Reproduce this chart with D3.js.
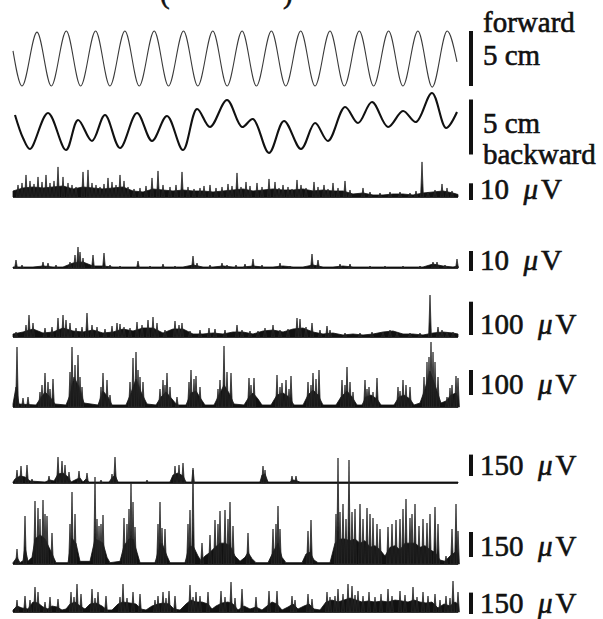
<!DOCTYPE html>
<html lang="en">
<head>
<meta charset="utf-8">
<style>
  body { margin: 0; background: white; }
  svg { display: block; background: white; font-family: 'Liberation Serif', 'DejaVu Serif', serif; }
  .fwd { fill: none; stroke: #3a3a3a; stroke-width: 1.1px; }
  .bwd { fill: none; stroke: #111; stroke-width: 2.1px; stroke-linejoin: round; }
  .env { fill: #111; stroke: #111; stroke-width: 0.8px; }
  .spike { fill: #151515; stroke: #2a2a2a; stroke-width: 0.8px; }
  .base { stroke: #111; stroke-width: 1.6px; }
  .bar { stroke: #111; stroke-width: 4px; }
  .lbl { font-size: 29px; fill: #111; stroke: #111; stroke-width: 0.6px; }
</style>
</head>
<body>
<svg width="603" height="619"></svg>
<script src="https://cdn.jsdelivr.net/npm/d3@7"></script>
<script>

// ---- data (time in s, displacement in cm, EMG in uV) ----

// forward trace: turning points [t, cm]
var forward = [[0,0.7],[0.9,-2.5],[2.4,2.4],[3.83,-2.5],[5.33,2.5],[6.76,-2.5],[8.26,2.5],[9.69,-2.5],
  [11.19,2.5],[12.62,-2.5],[14.12,2.5],[15.55,-2.5],[17.05,2.5],[18.48,-2.5],[19.98,2.5],[21.41,-2.5],
  [22.91,2.5],[24.34,-2.5],[25.84,2.5],[27.27,-2.5],[28.77,2.5],[30.2,-2.5],[31.7,2.5],[33.13,-2.5],
  [34.63,2.5],[36.06,-2.5],[37.56,2.5],[38.99,-2.5],[40.49,2.5],[41.92,-2.6],[43.42,2.5],[44.4,-0.3]];

// backward trace [t, cm]
var backward = [[0.2,1.09],[1.0,-1.0],[1.7,-2.0],[3.5,1.27],[5.3,-2.09],[6.5,0.64],[7.9,-1.27],[9.2,1.09],
  [10.7,-1.91],[12.4,1.27],[13.9,-1.27],[15.4,1.0],[17.0,-2.09],[18.4,1.64],[19.7,0],[21.4,2.45],
  [22.9,0],[24.0,0.73],[25.6,-2.36],[27.1,0.55],[28.8,-2.0],[30.2,0.36],[31.5,-1.27],[33.2,1.82],
  [34.5,0.36],[35.9,2.27],[37.5,0],[39.0,1.45],[40.3,0.45],[41.9,3.09],[43.3,-0.09],[44.4,1.36]];

// rectified EMG, background activity [t, uV]
var env1 = [[0,3.6],[1,5.4],[2,6],[3,5.4],[4,6],[5,6.6],[6,4.8],[7,6],[8,5.4],[9,4.8],[10,5.4],[11,6],
  [12,3.6],[13,3],[14,4.8],[15,4.2],[16,3.6],[17,4.2],[18,3.6],[19,3.6],[20,3],[21,3.6],[22,4.2],[23,4.8],
  [24,3.6],[25,4.2],[26,4.8],[27,4.2],[28,4.2],[29,4.8],[30,3.6],[31,4.2],[32,3.6],[33,3.6],[34,1.8],
  [35,2.4],[36,1.2],[37,1.2],[38,1.8],[39,1.8],[40,1.2],[41,2.4],[42,3],[43,3.6],[44,2.4],[44.5,1.5]];
var spk1 = [[0.5,7.2],[0.9,8.4],[1.3,13.2],[1.7,9.6],[2.1,7.8],[2.5,12],[2.9,9],[3.3,13.2],[3.7,8.4],
  [4.1,9.6],[4.5,18],[5.0,12],[5.5,8.4],[5.9,7.2],[6.3,6],[7.0,15],[7.5,16.2],[7.9,8.4],[8.3,7.2],[8.7,6],
  [9.1,7.8],[9.5,11.4],[9.9,9],[10.3,7.2],[10.7,13.2],[11.1,9.6],[11.5,6],[12.1,4.8],[12.7,5.4],[13.3,6.6],
  [13.9,11.4],[14.5,15.6],[15.0,7.2],[15.7,6],[16.3,7.2],[16.9,15],[17.5,6],[18.1,4.8],[18.7,5.4],[19.1,6.6],
  [19.7,7.2],[20.3,5.4],[20.9,6],[21.5,7.8],[21.9,6.6],[22.4,14.4],[22.8,6],[23.3,9],[23.7,6.6],[24.4,8.4],
  [24.9,6],[25.6,10.8],[26.2,9],[26.6,5.4],[27.0,7.2],[27.5,6],[27.9,4.8],[28.4,10.2],[28.8,7.2],[29.3,5.4],
  [30.1,9],[30.5,6],[31.1,7.2],[31.5,4.8],[32.0,8.4],[32.5,5.4],[33.2,9.6],[33.7,4.2],[35.0,5.4],[35.7,3],
  [36.7,2.4],[37.7,3],[38.7,3],[39.7,2.4],[40.3,3.6],[40.9,21],[41.5,3],[42.2,4.2],[42.9,7.8],[43.4,5.4],[43.9,3.6]];

var env2 = [[0,0.5],[1,0.5],[2,0.5],[3,1],[4,0.5],[5,0.5],[6,2.5],[7,3],[8,1],[9,1],[10,0.5],[11,0.5],
  [12,0.5],[13,0.5],[14,0.5],[15,0.5],[16,0.5],[17,0.5],[18,1.5],[19,0.5],[20,0.5],[21,1],[22,0.5],[23,0.5],
  [24,1],[25,0.5],[26,0.5],[27,1],[28,0.5],[29,0.5],[30,1.5],[31,0.5],[32,0.5],[33,1],[34,0.5],[35,0.5],
  [36,0.5],[37,0.5],[38,0.5],[39,0.5],[40,0.5],[41,0.5],[42,2],[43,1],[44,0.5],[44.5,1]];
var spk2 = [[0.3,4],[0.9,1.5],[3.0,3],[3.5,2.5],[4.3,1.5],[5.7,3],[6.2,6.5],[6.5,10.5],[6.7,8],[7.0,5],
  [8.0,6.5],[9.1,7.5],[9.7,1.5],[10.7,1],[12.5,3.5],[13.7,1],[15.0,2],[16.2,1],[18.0,6],[18.4,2.5],[19.7,1.5],
  [20.9,2.5],[21.4,1.5],[22.3,1.5],[23.2,2],[24.0,4.5],[24.9,1.5],[26.7,2.5],[27.7,1],[29.9,7],[30.5,4],
  [32.7,2],[33.7,2],[35.7,1],[37.2,1],[39.0,1],[40.7,1],[42.0,3],[42.4,3],[43.2,1.5],[44.4,4.5]];

var env3 = [[0,9],[1,15],[2,24],[3,12],[4,15],[5,27],[6,18],[7,15],[8,21],[9,12],[10,15],[11,24],[12,18],
  [13,27],[14,27],[15,12],[16,24],[17,24],[18,9],[19,9],[20,12],[21,9],[22,15],[23,15],[24,9],[25,18],
  [26,21],[27,15],[28,24],[29,27],[30,15],[31,9],[32,12],[33,6],[34,9],[35,6],[36,9],[37,15],[38,18],
  [39,9],[40,9],[41,6],[42,12],[43,15],[44,12],[44.5,9]];
var spk3 = [[0.3,15],[1.3,36],[1.6,66],[2.0,42],[3.2,27],[3.9,30],[4.5,57],[5.0,66],[5.3,51],[5.7,42],
  [6.3,27],[6.9,30],[7.4,72],[7.9,36],[8.4,30],[9.2,24],[9.9,33],[10.4,42],[10.7,39],[11.1,30],[11.7,27],
  [12.4,45],[12.9,36],[13.5,51],[14.0,60],[14.4,42],[15.2,21],[16.2,48],[16.6,36],[16.9,42],[17.7,18],
  [18.7,21],[19.6,27],[20.2,24],[21.2,21],[22.4,36],[22.9,21],[23.7,18],[24.5,18],[25.2,27],[26.0,36],
  [26.7,21],[27.5,24],[28.4,57],[28.7,54],[29.3,30],[29.9,42],[30.7,21],[31.4,33],[31.7,21],[33.2,12],
  [34.7,12],[35.9,15],[37.0,15],[37.7,21],[38.4,12],[39.7,12],[40.7,12],[41.7,126],[42.5,30],[42.9,21],
  [43.4,15],[44.0,15]];

var env4 = [[0,12],[0.3,80],[0.6,12],[2.3,8],[2.7,32],[3.2,60],[3.7,40],[4.2,12],[5.3,8],[5.7,48],[6.1,120],
  [6.6,80],[7.1,16],[8.5,8],[9.0,64],[9.5,40],[9.9,8],[11.3,8],[11.8,56],[12.3,112],[12.8,60],[13.4,12],
  [14.3,8],[14.8,40],[15.3,60],[15.9,32],[16.4,8],[17.3,8],[17.8,56],[18.3,64],[18.8,32],[19.2,8],[20.1,8],
  [20.6,48],[21.1,88],[21.6,56],[22.1,12],[23.1,8],[23.6,40],[24.0,56],[24.5,32],[24.9,8],[25.8,8],[26.4,48],
  [27.0,56],[27.6,40],[28.1,8],[29.0,8],[29.5,48],[30.0,68],[30.5,48],[31.0,8],[32.3,8],[32.8,40],[33.4,64],
  [33.9,40],[34.4,8],[34.9,8],[35.3,40],[35.8,48],[36.4,32],[36.8,8],[38.1,8],[38.6,40],[39.1,48],[39.7,32],
  [40.1,8],[40.7,16],[41.2,72],[41.7,144],[42.2,88],[42.8,16],[43.3,24],[43.8,48],[44.3,56],[44.5,32]];
var spk4 = [[0.4,240],[1.0,36],[1.5,40],[2.7,60],[2.9,88],[3.2,136],[3.5,100],[3.7,72],[4.0,112],[5.7,140],
  [5.9,240],[6.2,168],[6.5,208],[6.7,120],[6.9,80],[8.8,80],[9.0,136],[9.4,108],[9.7,48],[11.7,100],[12.0,196],
  [12.3,220],[12.5,148],[12.7,120],[13.0,100],[14.7,72],[15.0,108],[15.2,88],[15.4,136],[15.7,80],[16.4,40],
  [17.6,100],[17.8,148],[18.1,112],[18.3,124],[18.7,80],[20.5,72],[20.7,108],[21.1,244],[21.4,140],[21.8,136],
  [23.6,116],[23.8,88],[24.1,116],[26.4,128],[26.7,80],[26.9,96],[27.3,108],[27.6,72],[27.8,124],[29.5,100],
  [29.8,88],[30.0,136],[30.3,112],[30.6,148],[32.9,108],[33.2,88],[33.4,160],[33.7,100],[34.0,60],[35.2,108],
  [35.4,72],[35.6,80],[36.0,60],[36.4,116],[38.5,80],[38.7,64],[39.0,108],[39.3,88],[39.7,80],[41.1,120],
  [41.4,180],[41.6,200],[41.8,260],[42.0,220],[42.2,180],[42.5,120],[43.4,40],[43.7,76],[43.9,88],[44.3,124],[44.5,116]];

var env5 = [[0,7],[0.2,28],[0.7,49],[1.2,42],[1.7,14],[3.2,7],[3.7,21],[4.1,14],[4.5,63],[5.0,70],[5.5,42],
  [5.8,7],[6.4,28],[6.7,35],[7.0,7],[7.3,28],[7.6,7],[9.6,7],[9.9,35],[10.2,56],[10.5,7],[15.7,7],[16.0,56],
  [16.5,70],[17.0,49],[17.3,7],[24.7,7],[24.9,56],[25.2,63],[25.5,7],[27.7,7],[28.0,21],[28.4,14],[28.7,7],[44.5,7]];
var spk5 = [[0.4,91],[0.8,119],[1.4,126],[1.9,28],[3.6,49],[4.5,182],[4.9,154],[5.2,126],[5.6,77],[6.6,84],
  [7.4,70],[8.8,21],[9.9,63],[10.2,182],[13.4,21],[16.2,119],[16.6,126],[17.0,140],[18.0,105],[25.0,119],
  [25.2,91],[27.9,49],[28.3,49]];

var env6 = [[0,8],[0.4,40],[0.7,8],[1.0,20],[1.2,100],[1.5,16],[1.9,40],[2.2,150],[2.7,175],[3.2,150],[3.6,100],
  [4.0,48],[4.3,8],[5.5,8],[5.9,155],[6.3,125],[6.7,16],[7.7,16],[8.2,150],[8.6,140],[9.0,125],[9.4,40],[9.7,8],
  [10.7,16],[11.1,110],[11.6,150],[12.0,150],[12.4,70],[12.7,8],[14.2,8],[14.5,70],[14.9,125],[15.4,48],[15.7,8],
  [17.2,8],[17.6,100],[18.0,110],[18.5,48],[18.8,20],[19.2,48],[19.7,70],[20.2,100],[20.7,125],[21.2,125],
  [21.7,110],[22.2,48],[22.7,16],[23.2,40],[23.5,70],[23.9,32],[24.3,8],[25.5,8],[26.0,70],[26.5,125],[26.9,40],
  [27.3,8],[28.9,8],[29.3,60],[29.7,70],[30.1,24],[30.5,8],[31.7,8],[32.2,125],[32.7,150],[33.2,150],[33.7,140],
  [34.2,150],[34.7,125],[35.2,140],[35.7,100],[36.2,110],[36.7,85],[37.2,48],[37.7,100],[38.2,110],[38.7,85],
  [39.2,125],[39.7,125],[40.2,125],[40.7,100],[41.2,110],[41.7,85],[42.2,70],[42.7,24],[43.2,16],[43.7,48],
  [44.2,70],[44.5,55]];
var spk6 = [[0.4,90],[1.2,288],[2.2,378],[2.5,336],[2.7,270],[3.0,384],[3.2,300],[3.4,288],[3.9,186],[5.7,240],
  [5.9,432],[6.2,300],[8.2,522],[8.4,270],[8.6,228],[8.8,240],[9.0,294],[11.1,276],[11.4,240],[11.6,330],
  [11.8,486],[12.0,372],[12.2,222],[14.5,240],[14.7,372],[14.9,216],[15.2,210],[17.5,240],[17.7,324],[18.0,564],
  [18.9,126],[19.7,174],[20.2,264],[20.5,240],[20.7,318],[21.2,324],[21.5,270],[21.7,372],[22.0,228],[23.5,186],
  [26.0,210],[26.3,240],[26.5,348],[26.7,210],[29.5,198],[29.8,264],[32.3,300],[32.5,636],[32.7,312],[33.0,360],
  [33.3,270],[33.6,624],[33.9,312],[34.2,330],[34.7,360],[35.0,270],[35.4,336],[35.7,300],[36.0,276],[36.4,240],
  [36.7,210],[37.5,222],[37.9,240],[38.3,264],[38.7,270],[39.0,330],[39.3,390],[39.7,276],[39.9,300],[40.2,360],
  [40.6,228],[41.0,270],[41.4,246],[41.7,300],[42.2,342],[42.5,240],[43.3,48],[43.9,210],[44.3,360],[44.5,198]];

var env7 = [[0,14],[0.4,42],[0.9,28],[1.5,21],[2.0,70],[2.5,63],[3.0,35],[3.5,21],[3.9,42],[4.4,35],[4.9,14],
  [5.3,21],[5.7,56],[6.2,70],[6.7,42],[7.2,21],[7.7,56],[8.3,63],[8.9,42],[9.4,14],[9.9,14],[10.5,56],[11.0,70],
  [11.7,63],[12.3,56],[12.8,21],[13.3,14],[13.9,42],[14.5,56],[15.0,63],[15.6,56],[16.1,21],[16.7,14],[17.3,56],
  [17.8,84],[18.3,70],[18.9,70],[19.5,56],[19.9,21],[20.3,42],[20.9,63],[21.5,70],[22.0,56],[22.5,14],[23.1,42],
  [23.7,21],[24.3,35],[24.9,14],[25.4,42],[25.9,70],[26.4,56],[26.9,14],[27.5,35],[28.0,56],[28.5,21],[29.1,42],
  [29.6,56],[30.1,21],[30.7,14],[31.3,70],[31.9,84],[32.5,70],[33.1,84],[33.7,98],[34.3,84],[34.9,70],[35.5,77],
  [36.2,70],[36.9,77],[37.5,70],[38.2,84],[38.9,77],[39.5,70],[40.1,84],[40.7,70],[41.3,63],[41.9,70],[42.5,28],
  [43.1,56],[43.7,42],[44.2,70],[44.5,56]];
var spk7 = [[0.4,84],[1.2,112],[1.7,84],[2.2,175],[2.5,140],[3.2,70],[3.7,105],[4.5,91],[5.8,140],[6.1,105],
  [6.4,196],[6.8,126],[7.9,161],[8.2,98],[8.5,140],[9.3,112],[10.7,105],[11.0,196],[11.4,98],[12.0,140],
  [12.7,126],[14.2,84],[14.5,112],[15.0,140],[15.3,98],[15.6,147],[16.2,112],[17.7,189],[18.0,105],[18.3,140],
  [18.7,112],[19.5,140],[20.8,147],[21.2,105],[21.8,210],[22.2,98],[22.9,161],[24.3,105],[25.6,147],[26.4,147],
  [27.9,112],[28.2,84],[29.5,126],[29.9,91],[31.4,140],[31.7,105],[32.2,112],[32.5,161],[33.0,126],[33.5,196],
  [33.9,182],[34.2,119],[34.5,147],[35.0,112],[35.6,140],[36.2,105],[36.8,126],[37.5,161],[37.9,112],[38.7,147],
  [39.2,119],[40.0,175],[40.4,105],[41.0,140],[41.5,112],[42.2,126],[42.7,84],[43.3,112],[43.7,98],[44.0,217],[44.5,140]];

// scale bar values
var barValues = [10, 10, 100, 100, 150, 150, 150];

// ---- layout ----
var svg = d3.select("svg");

var x = d3.scaleLinear().domain([0, 44.7]).range([13, 460]);

var yFwd = d3.scaleLinear().domain([-2.5, 2.5]).range([86, 31]);
var yBwd = d3.scaleLinear().domain([-2.5, 2.5]).range([154.5, 99.5]);

// base: trace baseline, barPx: height of scale bar, ly: label baseline
var channels = [
  {env: env1, spk: spk1, base: 197, barPx: 16.7, ly: 199},
  {env: env2, spk: spk2, base: 268, barPx: 20,   ly: 270},
  {env: env3, spk: spk3, base: 337, barPx: 33.3, ly: 334},
  {env: env4, spk: spk4, base: 407, barPx: 25,   ly: 394},
  {env: env5, spk: spk5, base: 483, barPx: 21.4, ly: 475},
  {env: env6, spk: spk6, base: 564, barPx: 25,   ly: 556},
  {env: env7, spk: spk7, base: 612, barPx: 21.4, ly: 613}
];

// cropped title at top
svg.append("text").attr("class", "lbl").attr("x", 160).attr("y", 3).text("(");
svg.append("text").attr("class", "lbl").attr("x", 283).attr("y", 3).text(")");

// movement traces
var lineF = d3.line().x(d => x(d[0])).y(d => yFwd(d[1])).curve(d3.curveMonotoneX);
svg.append("path").datum(forward).attr("class", "fwd").attr("d", lineF);

var lineB = d3.line().x(d => x(d[0])).y(d => yBwd(d[1])).curve(d3.curveCatmullRom.alpha(0.5));
svg.append("path").datum(backward).attr("class", "bwd").attr("d", lineB);

var barX = 471;
svg.append("line").attr("class", "bar")
  .attr("x1", barX).attr("x2", barX).attr("y1", yFwd(2.5)).attr("y2", yFwd(-2.5));
svg.append("line").attr("class", "bar")
  .attr("x1", barX).attr("x2", barX).attr("y1", yBwd(2.5)).attr("y2", yBwd(-2.5));

svg.append("text").attr("class", "lbl").attr("x", 483).attr("y", 32).text("forward");
svg.append("text").attr("class", "lbl").attr("x", 483).attr("y", 65).text("5 cm");
svg.append("text").attr("class", "lbl").attr("x", 483).attr("y", 133).text("5 cm");
svg.append("text").attr("class", "lbl").attr("x", 483).attr("y", 164).text("backward");

// EMG channels
channels.forEach(function(c, i) {
  var y = d3.scaleLinear().domain([0, barValues[i]]).range([c.base, c.base - c.barPx]);
  var g = svg.append("g");

  var area = d3.area().x(d => x(d[0])).y0(c.base).y1(d => y(d[1]));
  g.append("path").datum(c.env).attr("class", "env").attr("d", area);

  g.append("line").attr("class", "base")
    .attr("x1", x(0)).attr("x2", x(44.5)).attr("y1", c.base).attr("y2", c.base);

  // each burst spike drawn as a narrow needle
  g.selectAll("path.spike").data(c.spk).enter().append("path")
    .attr("class", "spike")
    .attr("d", function(d) {
      var px = x(d[0]);
      return "M" + (px - 1.4) + "," + c.base + "L" + px + "," + y(d[1]) + "L" + (px + 1.4) + "," + c.base + "Z";
    });

  // scale bar + label
  var b = y(0) - y(barValues[i]);
  g.append("line").attr("class", "bar")
    .attr("x1", barX).attr("x2", barX).attr("y1", c.ly + 1 - b).attr("y2", c.ly + 1);
  var t = g.append("text").attr("class", "lbl").attr("x", 480).attr("y", c.ly);
  t.append("tspan").text(barValues[i] + "\u2002");
  t.append("tspan").attr("font-style", "italic").text("\u03bc");
  t.append("tspan").attr("dx", 3).text("V");
});

</script>
</body>
</html>
